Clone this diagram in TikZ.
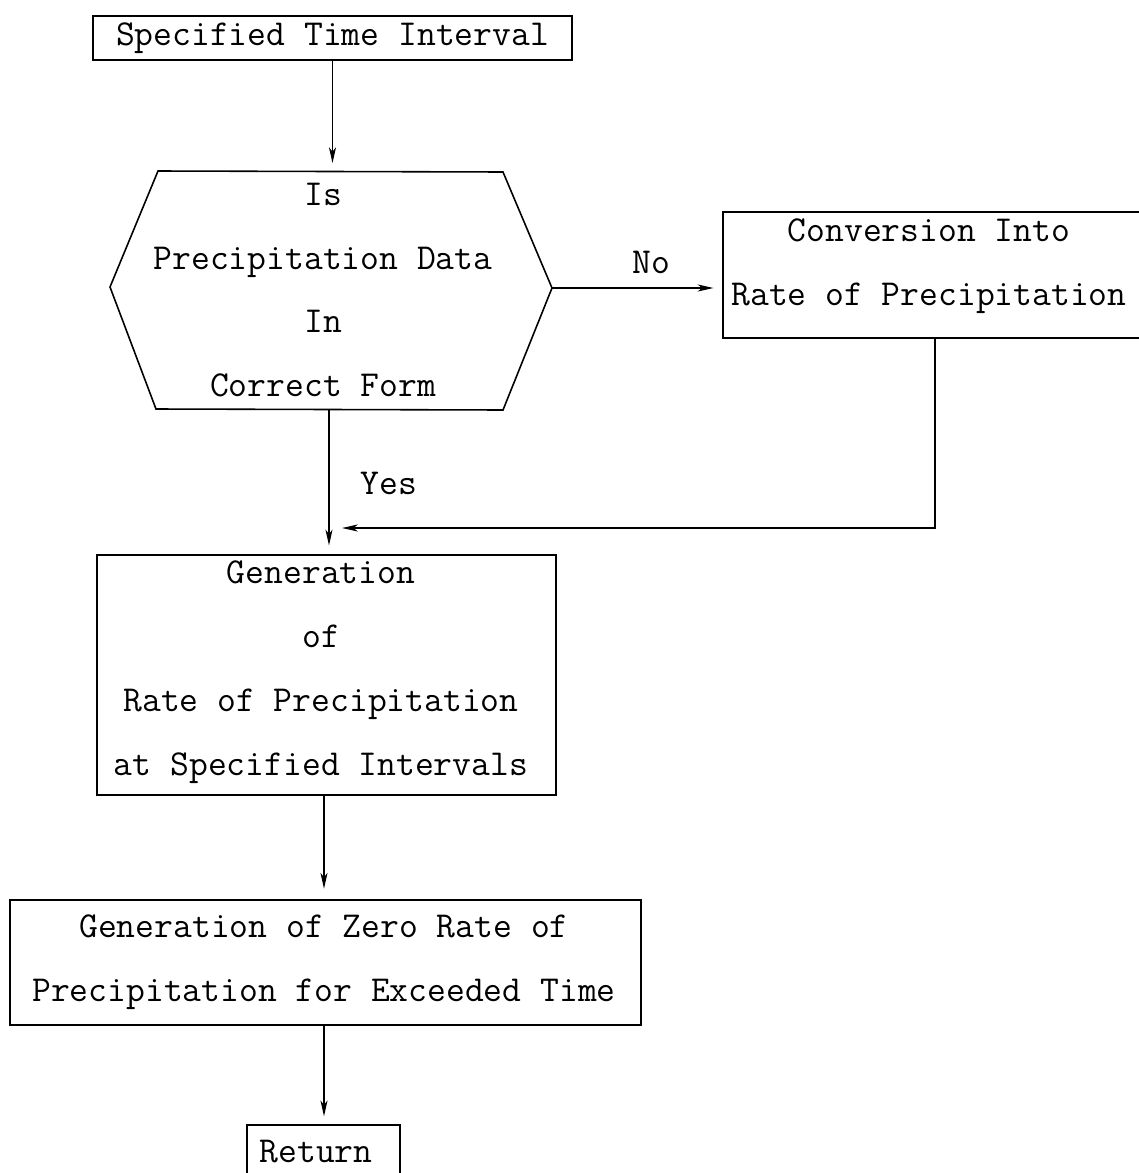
\documentclass[tikz,border=0pt]{standalone}
\usepackage{fontspec}
\usetikzlibrary{arrows.meta}
\begin{document}
\begin{tikzpicture}[x=0.02cm,y=-0.02cm,
  every node/.style={font=\ttfamily\fontsize{20.8}{36.3}\selectfont, inner sep=0pt},
  box/.style={draw, line width=0.9pt, align=center},
  txt/.style={align=center},
  flow/.style={line width=0.8pt, -{Stealth[length=9pt,width=4pt,inset=2.5pt]}, shorten >=5pt}]
\useasboundingbox (0,0) rectangle (1139,1173);
\clip (0,0) rectangle (1139,1173);

% start box
\node[box, minimum width=9.58cm, minimum height=0.88cm] (start) at (332.5,38) {Specified Time Interval};

% decision hexagon
\draw[line width=0.9pt]
  (158,171) coordinate (htl) -- (503,172) coordinate (htr)
  -- (552,288) coordinate (hr) -- (503,410) coordinate (hbr)
  -- (156,409) coordinate (hbl) -- (110,287) coordinate (hl) -- cycle;
\coordinate (htop) at (332.5,171);
\coordinate (hbot) at (329,410);
\node[txt] (decision) at (323,290) {Is\\Precipitation Data\\In\\Correct Form};

% conversion box
\node[box, minimum width=8.48cm, minimum height=2.52cm] (conv) at (935,275) {};
\node[txt] (convtext) at (929,266) {Conversion Into\\Rate of Precipitation};

% generation box
\node[box, minimum width=9.18cm, minimum height=4.8cm] (gen) at (326.5,675) {};
\node[txt] (gentext) at (321,672) {Generation\\of\\Rate of Precipitation\\at Specified Intervals};

% zero-rate box
\node[box, minimum width=12.62cm, minimum height=2.5cm] (zero) at (325.5,962.5) {};
\node[txt] (zerotext) at (324,962) {Generation of Zero Rate of\\Precipitation for Exceeded Time};

% return box
\node[box, minimum width=3.06cm, minimum height=1.3cm] (ret) at (323.5,1157.5) {};
\node (rettext) at (316,1152) {Return};

% connectors
\coordinate (join) at (329,528);
\draw[flow, shorten >=4.5pt] (start.south) -- (htop);
\draw[flow] (hr) -- (conv.west |- hr);
\node (no) at (651,262) {No};
\draw[flow, shorten >=7.4pt] (conv.south) |- (join);
\draw[flow] (hbot) -- (hbot |- gen.north);
\node (yes) at (389,483) {Yes};
\draw[flow, shorten >=6pt] (gen.south) ++(-2.5,0) coordinate (gs) -- (gs |- zero.north);
\draw[flow, shorten >=4.5pt] (zero.south) ++(-1.5,0) coordinate (zs) -- (zs |- ret.north);
\end{tikzpicture}
\end{document}
